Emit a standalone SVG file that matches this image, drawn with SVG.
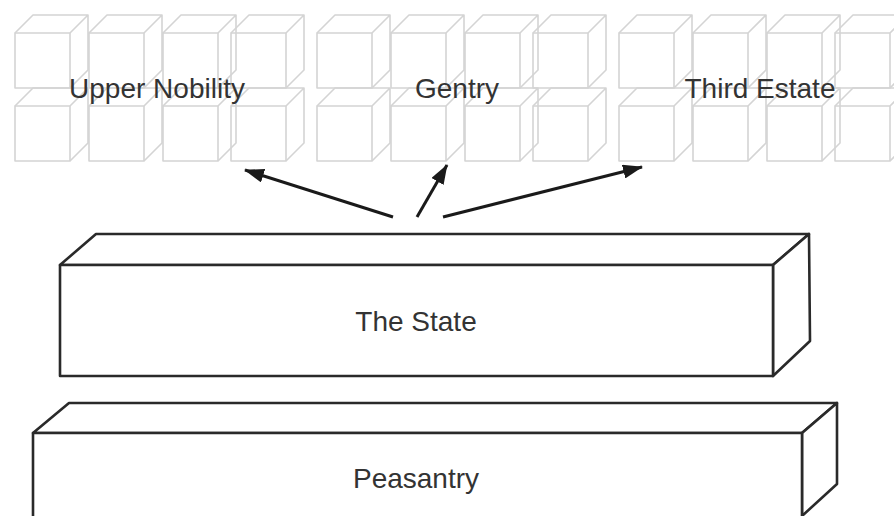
<svg xmlns="http://www.w3.org/2000/svg" xmlns:xlink="http://www.w3.org/1999/xlink" width="894" height="516" viewBox="0 0 894 516">
  <style>
    .cube { fill: none; stroke: #d4d4d4; stroke-width: 1.6; stroke-linejoin: round; }
    .box { fill: #ffffff; stroke: #2a2a2a; stroke-width: 2.6; stroke-linejoin: round; }
    .label { font-family: "Liberation Sans", Arial, sans-serif; font-size: 28px; fill: #333333; text-anchor: middle; }
    .arrow { stroke: #1a1a1a; stroke-width: 3; fill: none; }
  </style>
  <defs>
    <marker id="head" viewBox="0 0 20 14" refX="19" refY="7" markerWidth="20" markerHeight="14" markerUnits="userSpaceOnUse" orient="auto">
      <path d="M0,0 L20,7 L0,14 Z" fill="#1a1a1a"/>
    </marker>
    <g id="cube" class="cube">
      <rect x="0" y="0" width="55" height="55"/>
      <path d="M0,0 L18,-18 L73,-18 L55,0 M73,-18 L73,37 L55,55"/>
    </g>
    <g id="grid">
      <use xlink:href="#cube" x="0" y="33"/>
      <use xlink:href="#cube" x="74" y="33"/>
      <use xlink:href="#cube" x="148" y="33"/>
      <use xlink:href="#cube" x="216" y="33"/>
      <use xlink:href="#cube" x="0" y="106"/>
      <use xlink:href="#cube" x="74" y="106"/>
      <use xlink:href="#cube" x="148" y="106"/>
      <use xlink:href="#cube" x="216" y="106"/>
    </g>
  </defs>
  <rect width="894" height="516" fill="#ffffff"/>

  <g id="upper-nobility">
    <use xlink:href="#grid" x="15" y="0"/>
    <text class="label" x="157" y="98">Upper Nobility</text>
  </g>
  <g id="gentry">
    <use xlink:href="#grid" x="317" y="0"/>
    <text class="label" x="457" y="98">Gentry</text>
  </g>
  <g id="third-estate">
    <use xlink:href="#grid" x="619" y="0"/>
    <text class="label" x="760" y="98">Third Estate</text>
  </g>

  <g id="connectors">
    <line class="arrow" x1="393" y1="217" x2="245" y2="170" marker-end="url(#head)"/>
    <line class="arrow" x1="417" y1="217" x2="447" y2="165" marker-end="url(#head)"/>
    <line class="arrow" x1="443" y1="217" x2="642" y2="167" marker-end="url(#head)"/>
  </g>

  <g id="the-state">
    <polygon class="box" points="60,265 96,234 809,234 773,265"/>
    <polygon class="box" points="773,265 809,234 810,341 773,376"/>
    <rect class="box" x="60" y="265" width="713" height="111"/>
    <text class="label" x="416" y="331">The State</text>
  </g>

  <g id="peasantry">
    <polygon class="box" points="33,433 69,403 837,403 802,433"/>
    <polygon class="box" points="802,433 837,403 837,484 802,516"/>
    <rect class="box" x="33" y="433" width="769" height="90"/>
    <text class="label" x="416" y="488">Peasantry</text>
  </g>
</svg>
